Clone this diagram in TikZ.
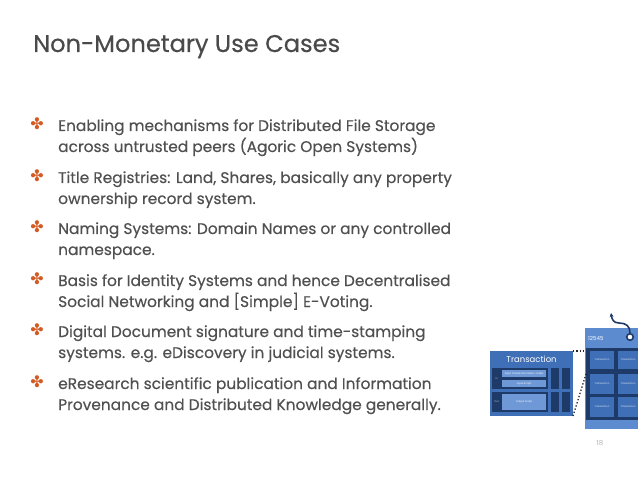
\documentclass[tikz,border=0pt]{standalone}
\usepackage{fontspec}
\setmainfont{Poppins}[FakeBold=0.4]
\newfontfamily\plainfont{Poppins}
\newfontfamily\dingfont{DejaVu Sans}
\usetikzlibrary{arrows.meta, positioning}

\definecolor{titlegray}{HTML}{4A4A4A}
\definecolor{textgray}{HTML}{505050}
\definecolor{bulletorange}{HTML}{D35A22}
\definecolor{txblue}{HTML}{3E6FB7}
\definecolor{txdark}{HTML}{1E3A68}
\definecolor{txlight}{HTML}{6E98D6}
\definecolor{blockhead}{HTML}{5C8BD0}
\definecolor{pagegray}{HTML}{B0B0B0}

\begin{document}
\begin{tikzpicture}[
  x=1bp, y=-1bp,
  slidetitle/.style = {anchor=base west, inner sep=0, text=titlegray, font=\fontsize{24.2}{28}\selectfont},
  itemline/.style = {anchor=base west, inner sep=0, text=textgray, font=\fontsize{15.45}{19}\selectfont},
  bulletmark/.style = {inner sep=0, text=bulletorange, font=\dingfont\fontsize{16}{16}\selectfont},
  box/.style = {anchor=north west, inner sep=0, outer sep=0},
  panel/.style = {box, fill=txdark},
  lightbox/.style = {box, fill=txlight, text=white, font=\plainfont\fontsize{2.5}{3}\selectfont},
  cell/.style = {box, fill=txblue, text=white!85!txblue, font=\plainfont\fontsize{2.5}{3}\selectfont},
  tiny/.style = {inner sep=0, text=white!70!txdark, font=\plainfont\fontsize{2.5}{3}\selectfont},
  zoomline/.style = {dotted, line width=1.3bp, black!85},
  link/.style = {line width=1.6bp, txdark, -{Stealth[length=4bp, width=4bp]}}
]

% Page size
\useasboundingbox (0,0) rectangle (638,479);

% Title
\node[slidetitle] (title) at (33,52) {Non-Monetary Use Cases};

% Bullet list
\node[bulletmark] (b1) at (37,124) {✤};
\node[itemline] (i1a) at (58,131) {Enabling mechanisms for Distributed File Storage};
\node[itemline] (i1b) at (58,152) {across untrusted peers (Agoric Open Systems)};

\node[bulletmark] (b2) at (37,176) {✤};
\node[itemline] (i2a) at (58,183) {Title Registries: Land, Shares, basically any property};
\node[itemline] (i2b) at (58,204) {ownership record system.};

\node[bulletmark] (b3) at (37,227) {✤};
\node[itemline] (i3a) at (58,234) {Naming Systems: Domain Names or any controlled};
\node[itemline] (i3b) at (58,255) {namespace.};

\node[bulletmark] (b4) at (37,279) {✤};
\node[itemline] (i4a) at (58,286) {Basis for Identity Systems and hence Decentralised};
\node[itemline] (i4b) at (58,307) {Social Networking and [Simple] E-Voting.};

\node[bulletmark] (b5) at (37,330) {✤};
\node[itemline] (i5a) at (58,337) {Digital Document signature and time-stamping};
\node[itemline] (i5b) at (58,358) {systems. e.g. eDiscovery in judicial systems.};

\node[bulletmark] (b6) at (37,382) {✤};
\node[itemline] (i6a) at (58,389) {eResearch scientific publication and Information};
\node[itemline] (i6b) at (58,410) {Provenance and Distributed Knowledge generally.};

% Transaction box
\node[box, fill=txblue, minimum width=83bp, minimum height=65bp] (txbox) at (490,351) {};
\node[inner sep=0, text=white, font=\plainfont\fontsize{8.5}{9}\selectfont] (txlabel) at (531.5,359.5) {Transaction};

\node[panel, minimum width=56bp, minimum height=21bp] (inrow) at (492,368) {};
\node[tiny] (inlabel) at (496.5,378.5) {In};
\node[lightbox, minimum width=44bp, minimum height=7bp] (inhash) at (502,370) {Input Transaction Hash + Index};
\node[lightbox, minimum width=44bp, minimum height=7bp] (inscript) at (502,380) {Input Script};
\node[panel, minimum width=8bp, minimum height=21bp] (incol1) at (551,368) {};
\node[panel, minimum width=8bp, minimum height=21bp] (incol2) at (562,368) {};

\node[panel, minimum width=56bp, minimum height=20bp] (outrow) at (492,392) {};
\node[tiny] (outlabel) at (496.5,402) {Out};
\node[lightbox, minimum width=44bp, minimum height=16bp] (outscript) at (502,394) {Output Script};
\node[panel, minimum width=8bp, minimum height=20bp] (outcol1) at (551,392) {};
\node[panel, minimum width=8bp, minimum height=20bp] (outcol2) at (562,392) {};

% Block
\node[box, fill=blockhead, minimum width=53bp, minimum height=101bp] (block) at (585,328) {};
\node[anchor=west, inner sep=0, text=white, font=\plainfont\fontsize{5.5}{6}\selectfont] (blockid) at (588,338) {12545};
\node[panel, minimum width=52bp, minimum height=72bp] (grid) at (586,348) {};

\node[cell, minimum width=24bp, minimum height=18bp] (c11) at (590,351) {Transaction};
\node[cell, minimum width=20bp, minimum height=18bp] (c12) at (618,351) {Transaction};
\node[cell, minimum width=24bp, minimum height=20bp] (c21) at (590,374) {Transaction};
\node[cell, minimum width=20bp, minimum height=20bp] (c22) at (618,374) {Transaction};
\node[cell, minimum width=24bp, minimum height=20bp] (c31) at (590,397) {Transaction};
\node[cell, minimum width=20bp, minimum height=20bp] (c32) at (618,397) {Transaction};

% Zoom lines
\coordinate (zoomtop) at (586,351);
\coordinate (zoomend) at (586,374);
\draw[zoomline] (txbox.north east) -- (zoomtop);
\draw[zoomline] (txbox.south east) -- (zoomend);

% Link to previous block
\node[circle, fill=white, draw=txdark, line width=1.6bp, minimum size=6.5bp, inner sep=0] (hashdot) at (630,337) {};
\coordinate (prevblock) at (611,313);
\draw[link] (hashdot.north) .. controls (630,326) and (626,323) .. (619,323)
  .. controls (613,323) and (612,319) .. (prevblock);

% Page number
\node[inner sep=0, text=pagegray, font=\plainfont\fontsize{7}{8}\selectfont] (pagenum) at (600,443) {18};

\end{tikzpicture}
\end{document}
